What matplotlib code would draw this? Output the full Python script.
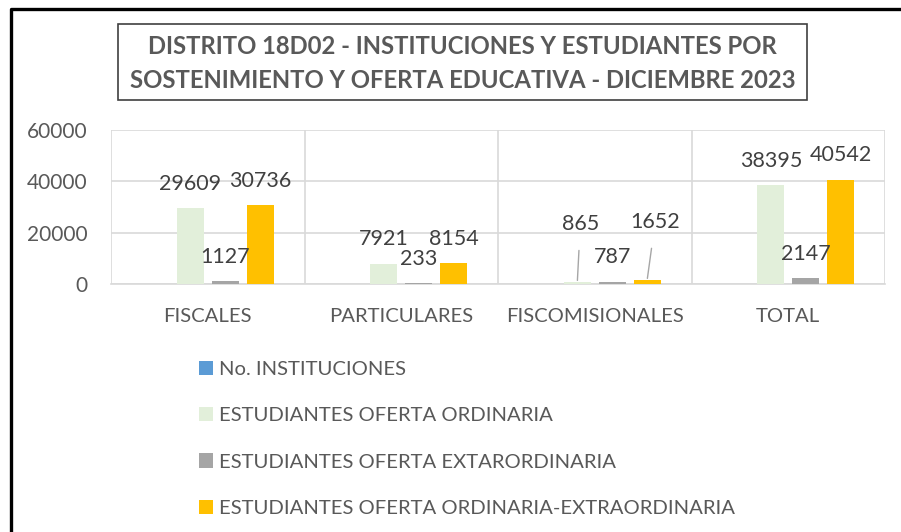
import matplotlib.pyplot as plt
from matplotlib.patches import Rectangle
from matplotlib.lines import Line2D
import numpy as np

plt.rcParams['font.family'] = ['Lato', 'DejaVu Sans']

# Data
categories = ["FISCALES", "PARTICULARES", "FISCOMISIONALES", "TOTAL"]
series_names = ["No. INSTITUCIONES", "ESTUDIANTES OFERTA ORDINARIA",
                "ESTUDIANTES OFERTA EXTARORDINARIA", "ESTUDIANTES OFERTA ORDINARIA-EXTRAORDINARIA"]
instituciones = [60, 20, 3, 83]
oferta_ordinaria = [29609, 7921, 865, 38395]
oferta_extraordinaria = [1127, 233, 787, 2147]
oferta_ord_extra = [30736, 8154, 1652, 40542]
yticks = [0, 20000, 40000, 60000]

colors = ["#5B9BD5", "#E2EFDA", "#A5A5A5", "#FFC000"]
text_col = "#595959"
label_col = "#404040"

fig = plt.figure(figsize=(9.01, 5.32), dpi=100)
W, H = 901, 532
ax = fig.add_axes([111 / W, 1 - 284 / H, (885 - 111) / W, (284 - 130) / H])

x = np.arange(len(categories))
width = 0.14
offsets = [-0.271, -0.090, 0.090, 0.271]
all_series = [instituciones, oferta_ordinaria, oferta_extraordinaria, oferta_ord_extra]

bar_groups = []
for vals, off, col, name in zip(all_series, offsets, colors, series_names):
    bars = ax.bar(x + off, vals, width, color=col, label=name, zorder=3)
    bar_groups.append(bars)

# Data labels (student series only)
for si in (1, 2, 3):
    for ci, b in enumerate(bar_groups[si]):
        val = all_series[si][ci]
        bx = b.get_x() + b.get_width() / 2
        if categories[ci] == "FISCOMISIONALES" and si in (1, 3):
            dx = 3 if si == 1 else 8
            ax.annotate(f"{val}", xy=(bx, val), xytext=(dx, 58), textcoords='offset pixels',
                        ha='center', va='center', fontsize=15.5, color=label_col,
                        arrowprops=dict(arrowstyle='-', color='#A6A6A6', lw=1.0,
                                        shrinkA=10, shrinkB=1))
        else:
            ax.annotate(f"{val}", xy=(bx, val), xytext=(0, 24.5), textcoords='offset pixels',
                        ha='center', va='center', fontsize=15.5, color=label_col)

ax.set_xlim(-0.5, len(categories) - 0.5)
ax.set_ylim(0, 60000)
ax.set_yticks(yticks)
ax.set_yticklabels([str(t) for t in yticks])
ax.set_xticks(x)
ax.set_xticklabels(categories)
ax.set_xticks(np.arange(-0.5, len(categories), 1), minor=True)
ax.grid(axis='y', color='#D9D9D9', lw=1.2, zorder=0)
ax.grid(axis='x', which='minor', color='#D9D9D9', lw=1.2, zorder=0)
ax.grid(axis='x', which='major', visible=False)
ax.tick_params(axis='x', which='both', length=0, labelsize=14.6, colors=text_col, pad=17)
ax.tick_params(axis='y', which='both', length=0, labelsize=15, colors=text_col, pad=17)
for s in ax.spines.values():
    s.set_visible(False)
ax.spines['bottom'].set_visible(True)
ax.spines['bottom'].set_color('#D9D9D9')
ax.spines['bottom'].set_linewidth(1.2)

# Legend
ax.legend(loc='upper left', bbox_to_anchor=(199 / W, 1 - 361 / H), bbox_transform=fig.transFigure,
          frameon=False, fontsize=14.6, labelcolor=text_col, handlelength=0.7, handleheight=0.7,
          handletextpad=0.3, labelspacing=1.43, borderpad=0, borderaxespad=0)

# Title box
fig.add_artist(Rectangle((118 / W, 1 - 100 / H), (807 - 118) / W, 76 / H,
                         transform=fig.transFigure, fill=False, ec='#404040', lw=1.2))
fig.text(462.5 / W, 1 - 46 / H, "DISTRITO 18D02 - INSTITUCIONES Y ESTUDIANTES POR",
         ha='center', va='center', fontsize=17.2, fontweight='bold', color=text_col)
fig.text(462.5 / W, 1 - 81 / H, "SOSTENIMIENTO Y OFERTA EDUCATIVA - DICIEMBRE 2023",
         ha='center', va='center', fontsize=17.2, fontweight='bold', color=text_col)

# Outer border (left and top visible)
fig.add_artist(Line2D([10.5 / W, 10.5 / W, 1.0], [0.0, 1 - 9 / H, 1 - 9 / H],
                      transform=fig.transFigure, color='black', lw=2.4))

fig.savefig("out.png", dpi=100)
